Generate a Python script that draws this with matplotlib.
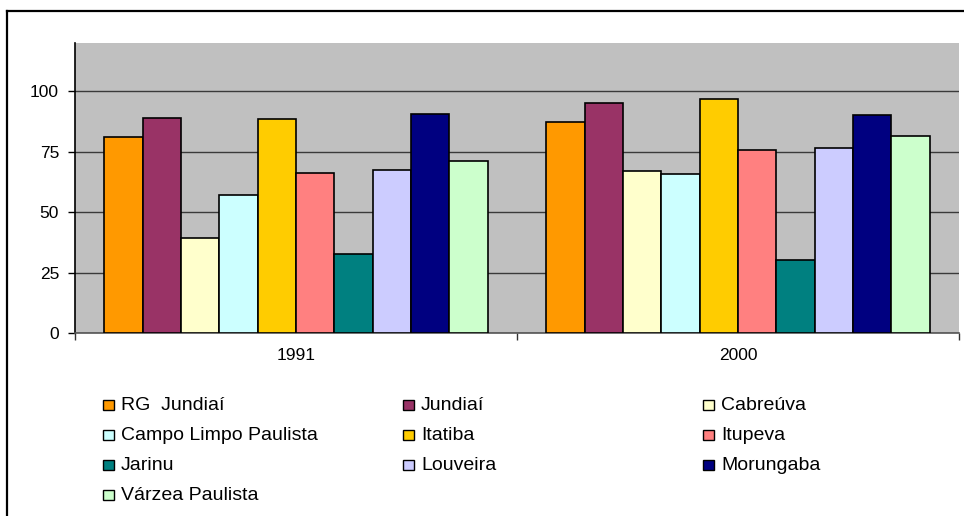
import matplotlib
matplotlib.use("Agg")
import matplotlib.pyplot as plt
from matplotlib.patches import Rectangle
from matplotlib.lines import Line2D

plt.rcParams["font.family"] = ["Liberation Sans", "DejaVu Sans"]

years = ["1991", "2000"]
cities = ["RG  Jundiaí", "Jundiaí", "Cabreúva", "Campo Limpo Paulista", "Itatiba",
          "Itupeva", "Jarinu", "Louveira", "Morungaba", "Várzea Paulista"]
values_1991 = [81.0, 89.0, 39.4, 57.2, 88.4, 66.3, 32.7, 67.4, 90.6, 71.1]
values_2000 = [87.2, 95.0, 67.0, 65.7, 96.7, 75.6, 30.4, 76.6, 90.2, 81.5]
colors = ["#FF9900", "#993366", "#FFFFCC", "#CCFFFF", "#FFCC00",
          "#FF8080", "#008080", "#CCCCFF", "#000080", "#CCFFCC"]
yticks = [0, 25, 50, 75, 100]

W, H = 964, 516
fig = plt.figure(figsize=(W / 100, H / 100), dpi=100)
ax = fig.add_axes([75 / W, 1 - 333 / H, (959 - 75) / W, (333 - 43) / H])
ax.set_facecolor("#C0C0C0")

# grouped bars, ten per year
bar_w = 0.0867
offset = (1 - bar_w * len(cities)) / 2
for i, (city, col) in enumerate(zip(cities, colors)):
    xs = [c + offset + i * bar_w for c in range(len(years))]
    ax.bar(xs, [values_1991[i], values_2000[i]], width=bar_w, align="edge",
           color=col, edgecolor="black", linewidth=1.2, zorder=3, label=city)

ax.set_xlim(0, len(years))
ax.set_ylim(0, 120)
ax.set_yticks(yticks)
ax.set_yticklabels([str(t) for t in yticks])
ax.yaxis.grid(True, color="#3a3a3a", linewidth=1.0, zorder=1)
ax.set_axisbelow(True)

ax.set_xticks(range(len(years) + 1))
ax.set_xticklabels([])
ax.set_xticks([c + 0.5 for c in range(len(years))], minor=True)
ax.set_xticklabels(years, minor=True)
ax.tick_params(axis="x", which="major", direction="out", length=5, width=1, color="#333333")
ax.tick_params(axis="x", which="minor", length=0, pad=11, labelsize=12.5)
ax.tick_params(axis="y", direction="out", length=5, width=1, pad=6.5, labelsize=12.5)

for side in ("top", "right"):
    ax.spines[side].set_visible(False)
ax.spines["left"].set_color("black")
ax.spines["left"].set_linewidth(1.2)
ax.spines["bottom"].set_color("#555555")
ax.spines["bottom"].set_linewidth(1.2)

# hand-placed legend, three columns filled row by row
col_x = [103, 403, 703]
row_y = [405, 435, 465, 495]
for k, (city, col) in enumerate(zip(cities, colors)):
    cx = col_x[k % 3]
    cy = row_y[k // 3]
    fig.patches.append(Rectangle((cx / W, 1 - (cy + 5) / H), 11 / W, 10 / H,
                                 transform=fig.transFigure, facecolor=col,
                                 edgecolor="black", linewidth=1.0))
    fig.text((cx + 18) / W, 1 - cy / H, city, fontsize=14, va="center", ha="left")

# chart frame
fig.add_artist(Line2D([7 / W, 7 / W], [0, 1 - 11 / H], transform=fig.transFigure,
                      color="black", linewidth=1.6))
fig.add_artist(Line2D([7 / W, 1], [1 - 11 / H, 1 - 11 / H], transform=fig.transFigure,
                      color="black", linewidth=1.6))

fig.savefig("out.png", dpi=100)
